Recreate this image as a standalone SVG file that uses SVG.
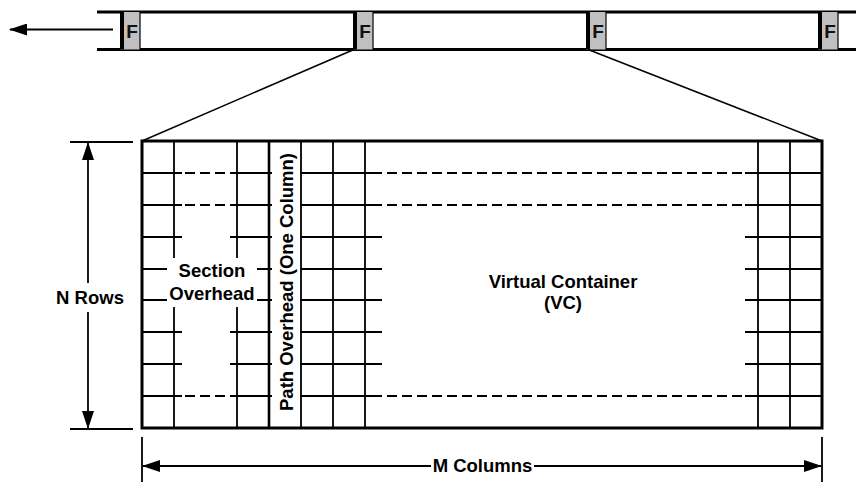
<svg xmlns="http://www.w3.org/2000/svg" width="856" height="482" viewBox="0 0 856 482">
<style>
.t{font-family:"Liberation Sans",Arial,sans-serif;font-weight:bold;font-size:18.5px;fill:#000;text-anchor:middle}
.f{font-family:"Liberation Sans",Arial,sans-serif;font-weight:bold;font-size:19px;fill:#111;text-anchor:middle}
.g{stroke:#000;stroke-width:1.8;fill:none}
.d{stroke:#000;stroke-width:1.8;fill:none;stroke-dasharray:10 5}
.b{stroke:#000;stroke-width:3;fill:none}
.fb{fill:#c0c0c0}
</style>
<defs>
<marker id="ah" viewBox="0 0 18 12" refX="17" refY="6" markerWidth="18" markerHeight="12" markerUnits="userSpaceOnUse" orient="auto-start-reverse">
<path d="M0,0 L18,6 L0,12 Z" fill="#000"/>
</marker>
</defs>
<rect width="856" height="482" fill="#fff"/>

<g id="stream">
<line class="b" x1="97" y1="12" x2="856" y2="12" stroke-width="2.5"/>
<line class="b" x1="97" y1="49.5" x2="856" y2="49.5" stroke-width="2.5"/>
</g>
<g id="f1">
<rect class="fb" x="120" y="12" width="20" height="37.5"/>
<rect x="120" y="12" width="4" height="37.5" fill="#000"/>
<line x1="140" y1="12" x2="140" y2="49.5" stroke="#000" stroke-width="1.2"/>
<text class="f" x="132" y="37.5">F</text>
</g>
<g id="f2">
<rect class="fb" x="353" y="12" width="20" height="37.5"/>
<rect x="353" y="12" width="4" height="37.5" fill="#000"/>
<line x1="373" y1="12" x2="373" y2="49.5" stroke="#000" stroke-width="1.2"/>
<text class="f" x="365" y="37.5">F</text>
</g>
<g id="f3">
<rect class="fb" x="586" y="12" width="20" height="37.5"/>
<rect x="586" y="12" width="4" height="37.5" fill="#000"/>
<line x1="606" y1="12" x2="606" y2="49.5" stroke="#000" stroke-width="1.2"/>
<text class="f" x="598" y="37.5">F</text>
</g>
<g id="f4">
<rect class="fb" x="818" y="12" width="20" height="37.5"/>
<rect x="818" y="12" width="4" height="37.5" fill="#000"/>
<line x1="838" y1="12" x2="838" y2="49.5" stroke="#000" stroke-width="1.2"/>
<text class="f" x="830" y="37.5">F</text>
</g>

<g id="connectors">
<line x1="113" y1="29.5" x2="10" y2="29.5" stroke="#000" stroke-width="1.8" marker-end="url(#ah)"/>
<line x1="354" y1="49.5" x2="142" y2="141" stroke="#000" stroke-width="1.5"/>
<line x1="588" y1="49.5" x2="822" y2="141" stroke="#000" stroke-width="1.5"/>
</g>

<g id="frame">
<path class="g" d="M174,141V258M174,307V428M237,141V258M237,307V428"/>
<path class="g" d="M142,173H182M230,173H272M142,237H182M230,237H272M142,269H167M257,269H272M142,300H167M257,300H272M142,332H182M230,332H272M142,364H182M230,364H272M142,396H182M230,396H272"/>
<path class="g" d="M142,205H182M230,205H272" stroke-width="2.6"/>
<path class="d" d="M185,173H230M185,205H230M185,396H230"/>
<path class="g" d="M301,141V428M333,141V428M365,141V428M758,141V428M790,141V428"/>
<path class="g" d="M301,173H382M745,173H822M301,205H382M745,205H822M301,237H382M745,237H822M301,269H382M745,269H822M301,300H382M745,300H822M301,332H382M745,332H822M301,364H382M745,364H822M301,396H382M745,396H822"/>
<path class="d" d="M387,173H743M387,205H743M387,396H743"/>
<line x1="269" y1="141" x2="269" y2="428" stroke="#000" stroke-width="2.6"/>
<rect class="b" x="142" y="141" width="680" height="287"/>
</g>

<g id="section-overhead">
<text class="t" x="212" y="277">Section</text>
<text class="t" x="212" y="300">Overhead</text>
</g>
<g id="path-overhead">
<text class="t" transform="translate(293,282) rotate(-90)">Path Overhead (One Column)</text>
</g>
<g id="vc">
<text class="t" x="563" y="288">Virtual Container</text>
<text class="t" x="563" y="309">(VC)</text>
</g>

<g id="dimensions">
<line x1="70" y1="142" x2="133" y2="142" stroke="#000" stroke-width="1.8"/>
<line x1="70" y1="429" x2="133" y2="429" stroke="#000" stroke-width="1.8"/>
<line x1="88" y1="283" x2="88" y2="143" stroke="#000" stroke-width="1.8" marker-end="url(#ah)"/>
<line x1="88" y1="312" x2="88" y2="428" stroke="#000" stroke-width="1.8" marker-end="url(#ah)"/>
<text class="t" x="90" y="304">N Rows</text>
<line x1="142" y1="437" x2="142" y2="482" stroke="#000" stroke-width="1.8"/>
<line x1="822" y1="437" x2="822" y2="482" stroke="#000" stroke-width="1.8"/>
<line x1="431" y1="466" x2="143" y2="466" stroke="#000" stroke-width="1.8" marker-end="url(#ah)"/>
<line x1="534" y1="466" x2="821" y2="466" stroke="#000" stroke-width="1.8" marker-end="url(#ah)"/>
<text class="t" x="482.5" y="472">M Columns</text>
</g>
</svg>
